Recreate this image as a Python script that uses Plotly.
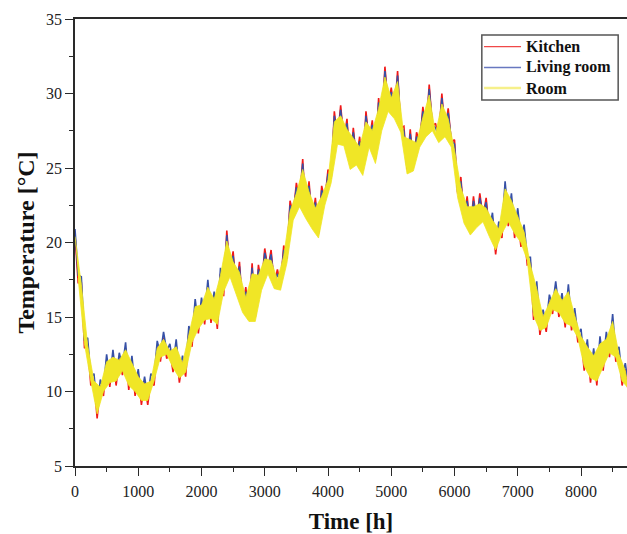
import plotly.graph_objects as go

# Hour grid: daily-swing highs read at HOURS_HI, lows read at HOURS_LO
HOURS_HI = list(range(0, 8800, 100))
HOURS_LO = list(range(50, 8800, 100))

KITCHEN_HI = [20.5,17.3,13.2,10.8,10.4,12.1,12.4,12.2,12.9,12.0,11.1,10.6,10.8,13.0,13.6,12.8,13.1,12.0,14.0,15.8,15.9,17.1,16.3,17.9,
              20.8,19.4,18.7,17.0,18.6,18.5,19.6,19.5,18.2,19.8,22.8,24.0,25.6,24.1,23.0,23.8,24.9,28.8,29.2,28.3,27.7,27.1,28.8,28.2,29.7,31.8,30.4,31.5,27.8,27.6,27.4,29.1,30.6,28.0,30.0,29.0,26.9,24.4,23.1,23.1,23.3,23.0,
              21.6,21.0,23.7,22.9,21.9,20.8,18.6,17.0,15.1,16.1,17.0,16.2,16.8,15.2,13.8,13.1,12.5,13.3,13.6,14.8,12.6,11.5]
KITCHEN_LO = [17.3,12.9,10.4,8.2,9.7,10.3,10.4,11.1,10.1,9.7,9.1,9.1,10.4,12.0,12.2,11.3,10.6,11.0,13.0,13.9,14.5,14.6,14.2,16.4,
              18.0,16.8,15.6,15.0,15.0,17.1,18.2,17.2,17.1,18.9,21.8,22.7,21.9,21.2,20.6,22.8,24.3,26.9,26.8,25.2,25.5,24.8,26.7,25.6,27.8,29.1,28.6,27.7,24.9,25.1,26.7,27.4,27.8,27.0,27.4,26.7,23.3,21.6,20.8,21.3,21.7,20.7,
              19.2,20.3,21.1,20.3,19.7,18.5,14.8,13.8,14.0,15.2,15.0,14.3,14.1,13.3,11.4,10.6,10.4,11.4,12.3,12.0,10.4,9.9]

LIVING_HI = [20.9,17.7,13.6,11.2,10.8,12.5,12.8,12.6,13.3,12.4,11.5,11.0,11.2,13.4,14.0,13.2,13.5,12.4,14.4,16.2,16.3,17.5,16.7,18.3,
             20.5,19.1,18.4,16.7,18.3,18.2,19.3,19.2,17.9,19.5,22.5,23.7,25.3,23.8,22.7,23.5,24.6,28.5,28.9,28.0,27.4,26.8,28.5,27.9,29.4,31.5,30.1,31.2,27.5,27.3,27.1,28.8,30.3,27.7,29.7,28.7,26.6,24.1,22.8,22.8,23.0,22.7,
             22.0,21.4,24.1,23.3,22.3,21.2,19.0,17.4,15.5,16.5,17.4,16.6,17.2,15.6,14.2,13.5,12.9,13.7,14.0,15.2,13.0,11.9]
LIVING_LO = [17.8,13.4,10.9,8.7,10.2,10.8,10.9,11.6,10.6,10.2,9.6,9.6,10.9,12.5,12.7,11.8,11.1,11.5,13.5,14.4,15.0,15.1,14.7,16.9,
             18.1,16.9,15.7,15.1,15.1,17.2,18.3,17.3,17.2,19.0,21.9,22.8,22.0,21.3,20.7,22.9,24.4,27.0,26.9,25.3,25.6,24.9,26.8,25.7,27.9,29.2,28.7,27.8,25.0,25.2,26.8,27.5,27.9,27.1,27.5,26.8,23.4,21.7,20.9,21.4,21.8,20.8,
             19.7,20.8,21.6,20.8,20.2,19.0,15.3,14.3,14.5,15.7,15.5,14.8,14.6,13.8,11.9,11.1,10.9,11.9,12.8,12.5,10.9,10.4]

ROOM_HI = [20.4,17.2,13.1,10.7,10.3,12.0,12.3,12.1,12.8,11.9,11.0,10.5,10.7,12.9,13.5,12.7,13.0,11.9,13.9,15.7,15.8,17.0,16.2,17.8,
           20.1,18.7,18.0,16.3,17.9,17.8,18.9,18.8,17.5,19.1,22.1,23.3,24.9,23.4,22.3,23.1,24.2,28.1,28.5,27.6,27.0,26.4,28.1,27.5,29.0,31.1,29.7,30.8,27.1,26.9,26.7,28.4,29.9,27.3,29.3,28.3,26.2,23.7,22.4,22.4,22.6,22.3,
           21.5,20.9,23.6,22.8,21.8,20.7,18.5,16.9,15.0,16.0,16.9,16.1,16.7,15.1,13.7,13.0,12.4,13.2,13.5,14.7,12.5,11.4]
ROOM_LO = [17.6,13.2,10.7,8.5,10.0,10.6,10.7,11.4,10.4,10.0,9.4,9.4,10.7,12.3,12.5,11.6,10.9,11.3,13.3,14.2,14.8,14.9,14.5,16.7,
           17.7,16.5,15.3,14.7,14.7,16.8,17.9,16.9,16.8,18.6,21.5,22.4,21.6,20.9,20.3,22.5,24.0,26.6,26.5,24.9,25.2,24.5,26.4,25.3,27.5,28.8,28.3,27.4,24.6,24.8,26.4,27.1,27.5,26.7,27.1,26.4,23.0,21.3,20.5,21.0,21.4,20.4,
           19.5,20.6,21.4,20.6,20.0,18.8,15.1,14.1,14.3,15.5,15.3,14.6,14.4,13.6,11.7,10.9,10.7,11.7,12.6,12.3,10.7,10.2]

NAMES = ["Kitchen", "Living room", "Room"]
COLORS = ["#F01818", "#3650A6", "#F0E626"]
LEGEND_COLORS = ["#F04848", "#6878C0", "#F6F08A"]

X_TICKS = [0, 1000, 2000, 3000, 4000, 5000, 6000, 7000, 8000]
Y_TICKS = [5, 10, 15, 20, 25, 30, 35]

FONT = "Liberation Serif"


def zigzag(hi, lo):
    xs, ys = [], []
    for th, tl, h, l in zip(HOURS_HI, HOURS_LO, hi, lo):
        xs += [th, tl]
        ys += [h, l]
    return xs, ys


fig = go.Figure()
# Kitchen and living room as daily swings (tips show around the room band)
for name, hi, lo, color in [(NAMES[0], KITCHEN_HI, KITCHEN_LO, COLORS[0]),
                            (NAMES[1], LIVING_HI, LIVING_LO, COLORS[1])]:
    xs, ys = zigzag(hi, lo)
    fig.add_trace(go.Scatter(x=xs, y=ys, mode="lines", name=name, showlegend=False,
                             line=dict(color=color, width=1.6)))
# Room: dense band between its highs and lows
fig.add_trace(go.Scatter(x=HOURS_HI + HOURS_LO[::-1], y=ROOM_HI + ROOM_LO[::-1],
                         mode="lines", fill="toself", fillcolor=COLORS[2],
                         line=dict(color=COLORS[2], width=0.8),
                         name=NAMES[2], showlegend=False))

# Legend drawn as a framed box in paper coordinates
LEG_X0, LEG_X1, LEG_Y0, LEG_Y1 = 0.737, 0.984, 0.819, 0.964
ROW_Y = [0.938, 0.8915, 0.8456]
LINE_X0, LINE_X1, TEXT_X = 0.741, 0.808, 0.814
shapes = [dict(type="rect", xref="paper", yref="paper", x0=LEG_X0, x1=LEG_X1,
               y0=LEG_Y0, y1=LEG_Y1, line=dict(color="#555", width=1.5),
               fillcolor="white", layer="above")]
annotations = []
for name, color, ry, w in zip(NAMES, LEGEND_COLORS, ROW_Y, [1.3, 1.3, 2.6]):
    shapes.append(dict(type="line", xref="paper", yref="paper", x0=LINE_X0, x1=LINE_X1,
                       y0=ry, y1=ry, line=dict(color=color, width=w), layer="above"))
    annotations.append(dict(xref="paper", yref="paper", x=TEXT_X, y=ry, text=name,
                            showarrow=False, xanchor="left", yanchor="middle",
                            font=dict(family=FONT, size=16, color="#111", weight="bold")))

axis_common = dict(
    showline=True, linecolor="#2a2a2a", linewidth=1.6,
    ticks="outside", ticklen=8, tickwidth=1.4, tickcolor="#2a2a2a",
    showgrid=False, zeroline=False,
    tickfont=dict(family=FONT, size=16, color="#222"),
)

fig.update_layout(
    width=627, height=534,
    margin=dict(l=75, r=0, t=19, b=68),
    paper_bgcolor="white", plot_bgcolor="white",
    showlegend=False,
    shapes=shapes,
    annotations=annotations,
    xaxis=dict(range=[0, 8727], tickvals=X_TICKS, mirror=True,
               minor=dict(dtick=500, ticks="outside", ticklen=4, tickcolor="#2a2a2a"),
               ticklabelstandoff=2,
               title=dict(text="Time [h]", standoff=16,
                          font=dict(family=FONT, size=23, color="#111", weight="bold")),
               **axis_common),
    yaxis=dict(range=[5, 35], tickvals=Y_TICKS, mirror=False,
               minor=dict(dtick=2.5, ticks="outside", ticklen=4, tickcolor="#2a2a2a"),
               title=dict(text="Temperature [°C]", standoff=5,
                          font=dict(family=FONT, size=24, color="#111", weight="bold")),
               **axis_common),
)

fig.write_html("out.html")
